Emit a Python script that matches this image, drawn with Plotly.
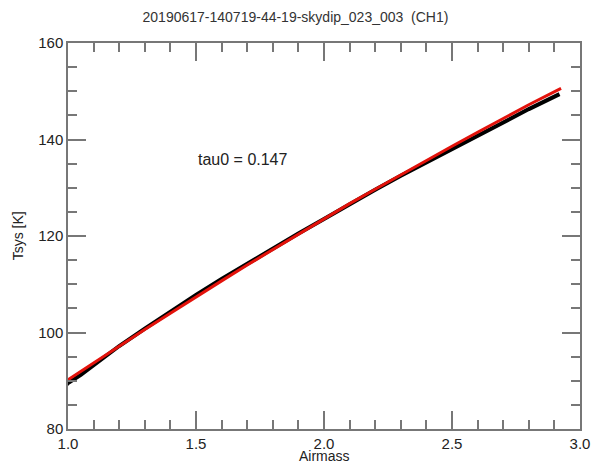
import plotly.graph_objects as go

# Measured Tsys vs airmass (black) and fitted model (red)
airmass_data = [0.99, 1.0, 1.05, 1.1, 1.15, 1.2, 1.3, 1.4, 1.5, 1.6, 1.7, 1.8,
                1.9, 2.0, 2.1, 2.2, 2.3, 2.4, 2.5, 2.6, 2.7, 2.8, 2.92]
tsys_data = [89.0, 89.5, 91.2, 93.2, 95.3, 97.2, 100.8, 104.4, 107.8, 111.1, 114.3,
             117.4, 120.5, 123.5, 126.6, 129.6, 132.5, 135.3, 138.1, 140.9, 143.6, 146.3, 149.4]

airmass_fit = [1.0, 1.1, 1.2, 1.3, 1.4, 1.5, 1.6, 1.7, 1.8, 1.9, 2.0, 2.1, 2.2, 2.3,
               2.4, 2.5, 2.6, 2.7, 2.8, 2.926]
tsys_fit = [90.2, 93.7, 97.2, 100.6, 104.0, 107.4, 110.7, 114.0, 117.2, 120.4, 123.6,
            126.7, 129.7, 132.7, 135.7, 138.6, 141.5, 144.4, 147.2, 150.6]

title_text = "20190617-140719-44-19-skydip_023_003  (CH1)"
tau_text = "tau0 = 0.147"
x_title = "Airmass"
y_title = "Tsys [K]"
x_range = [1.0, 3.0]
y_range = [80, 160]

fig = go.Figure()
fig.add_trace(go.Scatter(x=airmass_data, y=tsys_data, mode="lines",
                         line=dict(color="black", width=4), showlegend=False))
fig.add_trace(go.Scatter(x=airmass_fit, y=tsys_fit, mode="lines",
                         line=dict(color="#e3120b", width=3), showlegend=False))

font = "Liberation Sans, Arial, sans-serif"
axcol = "#777777"
common = dict(ticks="inside", ticklen=18, tickcolor=axcol, tickwidth=1.5,
              showline=True, linecolor=axcol, linewidth=1.5, mirror="allticks",
              showgrid=False, zeroline=False, automargin=True)
fig.update_layout(
    width=591, height=463,
    margin=dict(l=68, r=11, t=43, b=34, autoexpand=False),
    paper_bgcolor="white", plot_bgcolor="white",
    showlegend=False,
    font=dict(family=font, color="#222222", size=15),
    title=dict(text=title_text, x=0.5, xanchor="center", y=0.962, yanchor="middle",
               font=dict(size=14, color="#333333")),
    annotations=[
        dict(text=tau_text, x=1.5, y=135.8, xref="x", yref="y",
             xanchor="left", yanchor="middle", showarrow=False,
             font=dict(size=16, color="#222222")),
        dict(text=x_title, x=0.5, y=-0.071, xref="paper", yref="paper",
             xanchor="center", yanchor="middle", showarrow=False,
             font=dict(size=14, color="#222222")),
        dict(text=y_title, x=-0.097, y=0.5, xref="paper", yref="paper", textangle=-90,
             xanchor="center", yanchor="middle", showarrow=False,
             font=dict(size=14, color="#222222")),
    ],
    xaxis=dict(range=x_range, dtick=0.5, tickformat=".1f",
               minor=dict(dtick=0.1, ticks="inside", ticklen=9, tickcolor=axcol, tickwidth=1.5),
               **common),
    yaxis=dict(range=y_range, dtick=20,
               minor=dict(dtick=5, ticks="inside", ticklen=9, tickcolor=axcol, tickwidth=1.5),
               **common),
)

# re-apply the mirror setting after the first render so the top/right ticks get drawn
post = ("var gd=document.getElementById('{plot_id}');"
        "Plotly.relayout(gd, {'xaxis.mirror':'allticks','yaxis.mirror':'allticks'});")
fig.write_html("out.html", post_script=post)
